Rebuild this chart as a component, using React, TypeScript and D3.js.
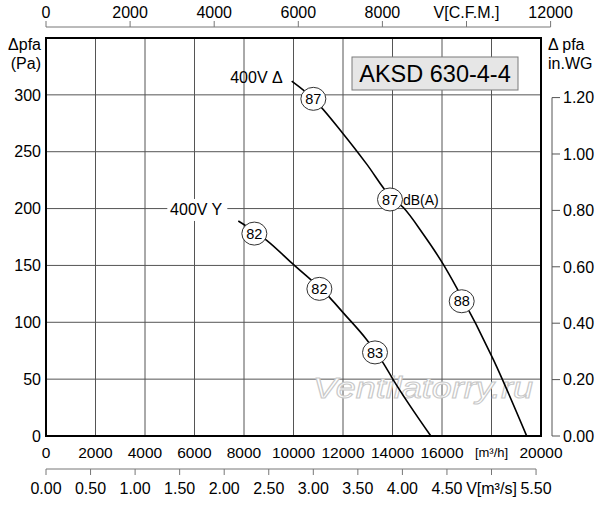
import React, { useRef, useEffect } from 'react'
import * as d3 from 'd3'

// air flow ticks in m3/h (bottom axis, grid)
const flowTicks = [0, 2000, 4000, 6000, 8000, 10000, 12000, 14000, 16000, 18000, 20000]
const flowLabels = ['0', '2000', '4000', '6000', '8000', '10000', '12000', '14000', '16000', '[m³/h]', '20000']
// top axis in CFM
const cfmTicks = [0, 2000, 4000, 6000, 8000, 10000, 12000]
const cfmLabels = ['0', '2000', '4000', '6000', '8000', 'V[C.F.M.]', '12000']
// second bottom axis in m3/s
const m3sTicks = [0, 0.5, 1, 1.5, 2, 2.5, 3, 3.5, 4, 4.5, 5, 5.5]
const m3sLabels = ['0.00', '0.50', '1.00', '1.50', '2.00', '2.50', '3.00', '3.50', '4.00', '4.50', 'V[m³/s]', '5.50']
// pressure
const paTicks = [0, 50, 100, 150, 200, 250, 300]
const wgTicks = [0, 0.2, 0.4, 0.6, 0.8, 1.0, 1.2]

// curves: [m3/h, Pa]
const deltaCurve: [number, number][] = [
  [9927, 312], [10802, 296.5], [12012, 265.6], [12958, 239.1], [13900, 211],
  [14438, 200.9], [15245, 177.4], [16053, 150.9], [16594, 130.3], [18081, 67], [19422, 0]
]
const starCurve: [number, number][] = [
  [7770, 189.1], [8917, 172.1], [9992, 150.9], [11475, 121.5], [12012, 108.3],
  [12958, 84.7], [13628, 64.1], [14032, 49.4], [15550, 0]
]
const deltaMarkers = [
  { q: 10802, p: 296.5, label: '87' },
  { q: 13899, p: 208, label: '87' },
  { q: 16796, p: 118.5, label: '88' }
]
const starMarkers = [
  { q: 8418, p: 178, label: '82' },
  { q: 11046, p: 129.4, label: '82' },
  { q: 13293, p: 73.5, label: '83' }
]

const W = 600
const H = 505
const FONT = '"Liberation Sans", Arial, Helvetica, sans-serif'
const NARROW = '"Liberation Sans Narrow", "Liberation Sans", Arial, sans-serif'
const CFM_TO_M3H = 1.699
const WG_TO_PA = 248

const App: React.FC = () => {
  const svgRef = useRef<SVGSVGElement>(null)

  useEffect(() => {
    if (!svgRef.current) return
    const svg = d3.select(svgRef.current)
    svg.selectAll('*').remove()

    const x = d3.scaleLinear().domain([0, 20000]).range([46, 541])
    const y = d3.scaleLinear().domain([0, 350]).range([436, 38])
    const [x0, x1] = x.range()
    const [y0, y1] = y.range()

    svg.append('rect').attr('width', W).attr('height', H).attr('fill', '#fff')

    // grid
    const grid = svg.append('g').attr('stroke', '#555').attr('stroke-width', 1)
    flowTicks.slice(1, -1).forEach(t => {
      grid.append('line').attr('x1', x(t)).attr('x2', x(t)).attr('y1', y0).attr('y2', y1)
    })
    paTicks.slice(1).forEach(t => {
      grid.append('line').attr('x1', x0).attr('x2', x1).attr('y1', y(t)).attr('y2', y(t))
    })

    // watermark
    svg.append('text')
      .attr('x', 313).attr('y', 398)
      .attr('textLength', 220).attr('lengthAdjust', 'spacingAndGlyphs')
      .attr('font-family', FONT).attr('font-size', 29).attr('font-style', 'italic')
      .attr('fill', '#fff').attr('stroke', '#c8c8c8').attr('stroke-width', 1)
      .text('Ventilatorry.ru')

    // frame
    svg.append('rect')
      .attr('x', x0).attr('y', y1).attr('width', x1 - x0).attr('height', y0 - y1)
      .attr('fill', 'none').attr('stroke', '#000').attr('stroke-width', 2)

    // curves
    const line = d3.line<[number, number]>()
      .x(d => x(d[0])).y(d => y(d[1]))
      .curve(d3.curveMonotoneX)
    ;[deltaCurve, starCurve].forEach(c => {
      svg.append('path').attr('d', line(c)).attr('fill', 'none')
        .attr('stroke', '#000').attr('stroke-width', 1.6)
    })

    // sound level markers
    ;[...deltaMarkers, ...starMarkers].forEach(m => {
      const g = svg.append('g').attr('transform', `translate(${x(m.q)},${y(m.p)})`)
      g.append('ellipse').attr('rx', 12.5).attr('ry', 11.5)
        .attr('fill', '#fff').attr('stroke', '#333').attr('stroke-width', 1)
      g.append('text').attr('text-anchor', 'middle').attr('dy', '0.36em')
        .attr('font-family', NARROW).attr('font-size', 14.5).text(m.label)
    })
    const dbm = deltaMarkers[1]
    svg.append('text').attr('x', x(dbm.q) + 13).attr('y', y(dbm.p)).attr('dy', '0.36em')
      .attr('font-family', NARROW).attr('font-size', 14).text('dB(A)')

    // curve labels
    const deltaStart = deltaCurve[0]
    svg.append('text')
      .attr('x', x(deltaStart[0]) - 9).attr('y', y(deltaStart[1]) - 4).attr('dy', '0.36em')
      .attr('text-anchor', 'end').attr('font-family', FONT).attr('font-size', 16)
      .text('400V Δ')
    const starStart = starCurve[0]
    svg.append('rect')
      .attr('x', x(starStart[0]) - 71).attr('y', y(starStart[1]) - 22)
      .attr('width', 60).attr('height', 22).attr('fill', '#fff')
    svg.append('text')
      .attr('x', x(starStart[0]) - 16).attr('y', y(starStart[1]) - 12).attr('dy', '0.36em')
      .attr('text-anchor', 'end').attr('font-family', FONT).attr('font-size', 16)
      .text('400V Y')

    // title box
    svg.append('rect').attr('x', 352).attr('y', 57).attr('width', 166).attr('height', 33)
      .attr('fill', '#e6e6e6').attr('stroke', '#7a7a7a').attr('stroke-width', 1)
    svg.append('text').attr('x', 435).attr('y', 73.5).attr('dy', '0.36em')
      .attr('text-anchor', 'middle').attr('font-family', FONT).attr('font-size', 23.5)
      .text('AKSD 630-4-4')

    const label = (tx: number, ty: number, t: string, anchor = 'middle', size = 16) =>
      svg.append('text').attr('x', tx).attr('y', ty).attr('dy', '0.36em')
        .attr('text-anchor', anchor).attr('font-family', FONT).attr('font-size', size)
        .attr('fill', '#000').text(t)

    // bottom m3/h labels
    flowTicks.forEach((t, i) => {
      const l = flowLabels[i]
      label(x(t), 452, l, 'middle', l.startsWith('[') ? 13 : 15.5)
    })

    // left pressure labels
    paTicks.forEach(t => label(41, y(t), String(t), 'end', 16))
    label(41, 44, 'Δpfa', 'end', 16)
    label(41, 63, '(Pa)', 'end', 16)

    // top CFM axis
    const cx = (c: number) => x(c * CFM_TO_M3H)
    const top = svg.append('g').attr('stroke', '#777').attr('stroke-width', 1)
    top.append('line').attr('x1', cx(0)).attr('x2', cx(12000)).attr('y1', 27).attr('y2', 27)
    cfmTicks.forEach((t, i) => {
      top.append('line').attr('x1', cx(t)).attr('x2', cx(t)).attr('y1', 27).attr('y2', 21)
      label(cx(t), 12, cfmLabels[i])
    })

    // bottom m3/s axis
    const sx = (v: number) => x(v * 3600)
    const bot = svg.append('g').attr('stroke', '#777').attr('stroke-width', 1)
    bot.append('line').attr('x1', sx(0)).attr('x2', sx(5.5)).attr('y1', 469).attr('y2', 469)
    m3sTicks.forEach((t, i) => {
      bot.append('line').attr('x1', sx(t)).attr('x2', sx(t)).attr('y1', 469).attr('y2', 475)
      label(sx(t), 488, m3sLabels[i])
    })

    // right in.WG axis
    const wy = (w: number) => y(w * WG_TO_PA)
    const right = svg.append('g').attr('stroke', '#555').attr('stroke-width', 1)
    right.append('line').attr('x1', 552).attr('x2', 552).attr('y1', wy(0)).attr('y2', wy(1.2))
    wgTicks.forEach(t => {
      right.append('line').attr('x1', 552).attr('x2', 560).attr('y1', wy(t)).attr('y2', wy(t))
      label(563, wy(t), t.toFixed(2), 'start')
    })
    label(548, 44, 'Δ pfa', 'start')
    label(548, 63, 'in.WG', 'start')
  }, [])

  return (
    <svg
      ref={svgRef}
      width={W}
      height={H}
      style={{ position: 'absolute', left: 0, top: 0, display: 'block' }}
    />
  )
}

export default App
